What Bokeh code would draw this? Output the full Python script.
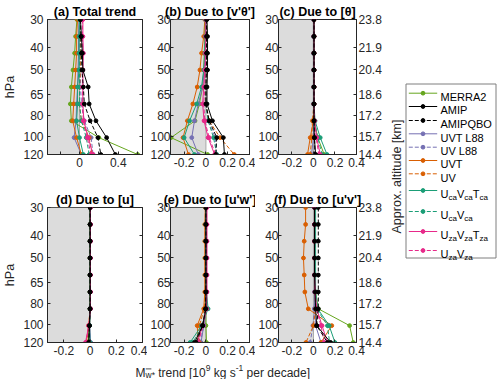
import math
from bokeh.plotting import figure
from bokeh.models import (Range1d, FixedTicker, LogAxis, NumeralTickFormatter, BoxAnnotation,
                          Span, CustomJSTickFormatter)
from bokeh.layouts import row, column
from bokeh.embed import file_html
from bokeh.resources import INLINE
from bokeh.core.properties import value

# ---------------- data ----------------
levels = [30, 35.7, 42.4, 50.4, 60.0, 71.4, 84.9, 100.9, 120]      # hPa, top -> bottom
p_ticks = [30, 40, 50, 65, 80, 100, 120]
alt_ticks = ["23.8", "21.9", "20.4", "18.6", "17.2", "15.7", "14.4"]

series = ["MERRA2", "AMIP", "AMIPQBO", "UVT L88", "UV L88", "UVT", "UV",
          "UcaVcaTca", "UcaVca", "UzaVzaTza", "UzaVza"]
colors = ["#66a61e", "#000000", "#000000", "#7570b3", "#7570b3", "#d95f02", "#d95f02",
          "#1b9e77", "#1b9e77", "#e7298a", "#e7298a"]
dashes = ["solid", "solid", "dashed", "solid", "dashed", "solid", "dashed",
          "solid", "dashed", "solid", "dashed"]
# drawing order in the panels (reference series end up on top)
draw_order = [0, 3, 4, 5, 6, 7, 8, 9, 10, 2, 1]
legend_labels = [
    [("MERRA2", 0)], [("AMIP", 0)], [("AMIPQBO", 0)], [("UVT L88", 0)], [("UV L88", 0)],
    [("UVT", 0)], [("UV", 0)],
    [("U", 0), ("ca", 1), ("V", 0), ("ca", 1), ("T", 0), ("ca", 1)],
    [("U", 0), ("ca", 1), ("V", 0), ("ca", 1)],
    [("U", 0), ("za", 1), ("V", 0), ("za", 1), ("T", 0), ("za", 1)],
    [("U", 0), ("za", 1), ("V", 0), ("za", 1)],
]

total_trend = {
    "MERRA2":    [-0.026, -0.04, -0.05, -0.067, -0.084, -0.094, -0.084, 0.20, 0.60],
    "AMIP":      [0.01, 0.02, 0.03, 0.035, 0.09, 0.10, 0.17, 0.28, 0.37],
    "AMIPQBO":   [0.01, 0.015, 0.02, 0.025, 0.04, 0.05, 0.11, 0.19, 0.22],
    "UVT L88":   [-0.005, -0.01, -0.01, -0.015, -0.02, -0.03, -0.035, -0.056, 0.02],
    "UV L88":    [0.0, 0.005, 0.01, 0.01, 0.01, 0.02, 0.05, 0.12, 0.14],
    "UVT":       [-0.02, -0.03, -0.03, -0.04, -0.05, -0.06, -0.07, -0.03, 0.02],
    "UV":        [0.0, 0.01, 0.01, 0.01, 0.0, 0.0, 0.02, 0.10, 0.13],
    "UcaVcaTca": [0.0, -0.005, -0.005, -0.005, -0.02, -0.02, -0.03, 0.0, 0.04],
    "UcaVca":    [0.005, 0.005, 0.005, 0.0, 0.0, 0.0, 0.02, 0.07, 0.10],
    "UzaVzaTza": [0.035, 0.035, 0.04, 0.035, 0.035, 0.035, 0.045, 0.09, 0.14],
    "UzaVza":    [0.03, 0.03, 0.035, 0.03, 0.03, 0.03, 0.04, 0.08, 0.12],
}
due_vtheta = {
    "MERRA2":    [-0.005, -0.01, -0.015, -0.02, -0.03, -0.06, -0.10, -0.32, 0.015],
    "AMIP":      [0.01, 0.015, 0.015, 0.015, 0.01, 0.01, 0.06, 0.16, 0.17],
    "AMIPQBO":   [0.005, 0.005, 0.005, 0.005, 0.0, 0.0, 0.03, 0.10, 0.09],
    "UVT L88":   [0.0, -0.005, -0.01, -0.015, -0.03, -0.07, -0.105, -0.13, -0.07],
    "UV L88":    [0.0, 0.0, 0.0, 0.0, 0.0, 0.0, 0.02, 0.085, 0.10],
    "UVT":       [-0.01, -0.02, -0.04, -0.055, -0.08, -0.12, -0.17, -0.21, -0.16],
    "UV":        [0.0, 0.0, 0.0, 0.0, 0.0, 0.0, 0.03, 0.13, 0.26],
    "UcaVcaTca": [-0.005, -0.005, -0.01, -0.02, -0.04, -0.085, -0.15, -0.20, -0.105],
    "UcaVca":    [0.0, 0.0, 0.0, 0.0, 0.0, 0.0, 0.02, 0.07, 0.10],
    "UzaVzaTza": [0.0, 0.0, -0.005, -0.01, -0.02, -0.03, -0.017, 0.02, 0.08],
    "UzaVza":    [0.0, 0.0, 0.0, -0.005, -0.01, -0.02, -0.01, 0.03, 0.09],
}
due_theta = {
    "MERRA2":    [0.0, 0.0, 0.0, 0.0, 0.0, 0.0, 0.005, 0.04, 0.10],
    "AMIP":      [0.005, 0.005, 0.005, 0.005, 0.005, 0.005, 0.005, 0.008, 0.02],
    "AMIPQBO":   [0.005, 0.005, 0.005, 0.005, 0.005, 0.005, 0.005, 0.01, 0.015],
    "UVT L88":   [0.0, 0.0, 0.0, 0.0, 0.0, 0.0, 0.0, 0.0, -0.018],
    "UV L88":    [0.0, 0.0, 0.0, 0.0, 0.0, 0.0, 0.0, 0.005, 0.01],
    "UVT":       [0.005, 0.005, 0.005, 0.005, 0.005, 0.005, 0.0, -0.03, -0.055],
    "UV":        [0.005, 0.005, 0.005, 0.005, 0.005, 0.005, -0.01, -0.015, -0.03],
    "UcaVcaTca": [0.005, 0.005, 0.005, 0.005, 0.005, 0.005, 0.015, 0.063, 0.126],
    "UcaVca":    [0.005, 0.005, 0.005, 0.005, 0.005, 0.005, 0.01, 0.04, 0.08],
    "UzaVzaTza": [0.005, 0.005, 0.005, 0.005, 0.005, 0.005, 0.01, 0.03, 0.063],
    "UzaVza":    [0.005, 0.005, 0.005, 0.005, 0.005, 0.005, 0.01, 0.025, 0.05],
}
due_u = {
    "MERRA2":    [0.0, 0.0, 0.0, 0.0, 0.0, 0.0, 0.0, -0.005, -0.015],
    "AMIP":      [0.0, 0.0, 0.0, 0.0, 0.0, 0.0, 0.0, -0.005, -0.01],
    "AMIPQBO":   [0.0, 0.0, 0.0, 0.0, 0.0, 0.0, 0.0, -0.005, -0.01],
    "UVT L88":   [0.0, 0.0, 0.0, 0.0, 0.0, 0.0, 0.0, -0.005, 0.005],
    "UV L88":    [0.0, 0.0, 0.0, 0.0, 0.0, 0.0, 0.0, -0.005, 0.0],
    "UVT":       [0.0, 0.0, 0.0, 0.0, 0.0, 0.0, 0.0, -0.01, -0.03],
    "UV":        [0.0, 0.0, 0.0, 0.0, 0.0, 0.0, 0.0, -0.01, -0.025],
    "UcaVcaTca": [0.0, 0.0, 0.0, 0.0, 0.0, 0.0, 0.0, -0.005, 0.0],
    "UcaVca":    [0.0, 0.0, 0.0, 0.0, 0.0, 0.0, 0.0, -0.005, -0.005],
    "UzaVzaTza": [0.003, 0.003, 0.003, 0.003, 0.003, 0.003, 0.003, -0.01, -0.035],
    "UzaVza":    [0.003, 0.003, 0.003, 0.003, 0.003, 0.003, 0.003, -0.01, -0.03],
}
due_uw = {
    "MERRA2":    [0.0, 0.0, 0.0, 0.0, 0.0, 0.0, 0.0, 0.0, 0.005],
    "AMIP":      [0.0, 0.0, 0.0, 0.0, 0.0, 0.0, 0.0, -0.03, -0.105],
    "AMIPQBO":   [0.0, 0.0, 0.0, 0.0, 0.0, 0.0, -0.005, -0.03, -0.09],
    "UVT L88":   [0.005, 0.005, 0.005, 0.005, 0.005, 0.005, 0.005, -0.02, -0.045],
    "UV L88":    [0.005, 0.005, 0.005, 0.005, 0.005, 0.005, 0.0, -0.02, -0.05],
    "UVT":       [-0.005, -0.01, -0.01, -0.01, -0.01, -0.01, -0.02, -0.08, -0.07],
    "UV":        [-0.005, -0.005, -0.005, -0.005, -0.005, -0.005, -0.015, -0.06, -0.06],
    "UcaVcaTca": [0.0, 0.0, 0.0, 0.0, 0.0, 0.005, 0.02, -0.04, -0.145],
    "UcaVca":    [0.0, 0.0, 0.0, 0.0, 0.0, 0.005, 0.01, -0.03, -0.12],
    "UzaVzaTza": [0.01, 0.01, 0.01, 0.01, 0.01, 0.01, 0.005, -0.03, -0.08],
    "UzaVza":    [0.005, 0.005, 0.005, 0.005, 0.005, 0.005, 0.005, -0.025, -0.07],
}
due_uv = {
    "MERRA2":    [0.01, 0.01, 0.01, 0.01, 0.015, 0.02, 0.045, 0.336, 0.37],
    "AMIP":      [0.01, 0.01, 0.01, 0.01, 0.01, 0.015, 0.02, 0.03, 0.16],
    "AMIPQBO":   [0.045, 0.045, 0.045, 0.045, 0.045, 0.045, 0.045, 0.03, 0.13],
    "UVT L88":   [0.01, 0.01, 0.01, 0.01, 0.01, 0.01, 0.01, 0.02, 0.07],
    "UV L88":    [0.01, 0.01, 0.01, 0.01, 0.01, 0.01, 0.008, -0.005, -0.03],
    "UVT":       [-0.073, -0.073, -0.086, -0.093, -0.086, -0.08, -0.048, 0.17, 0.07],
    "UV":        [0.01, 0.01, 0.01, 0.01, 0.01, 0.015, 0.02, 0.0, -0.07],
    "UcaVcaTca": [0.02, 0.02, 0.02, 0.02, 0.02, 0.02, 0.04, 0.146, 0.20],
    "UcaVca":    [0.015, 0.015, 0.015, 0.015, 0.015, 0.015, 0.03, 0.13, 0.15],
    "UzaVzaTza": [0.01, 0.01, 0.01, 0.01, 0.01, 0.015, 0.03, 0.08, 0.13],
    "UzaVza":    [0.01, 0.01, 0.01, 0.01, 0.01, 0.015, 0.025, 0.07, 0.10],
}

# ---------------- styling helpers ----------------
FONT = "Liberation Sans"
AX = "#262626"
GREY = "#dcdcdc"
DASH = {"solid": "solid", "dashed": "4 2"}
MSIZE = 3.8

W = {' ': 278, 'M': 833, 'w': 722, '*': 389, 't': 278, 'r': 333, 'e': 556, 'n': 556,
     'd': 556, '[': 278, ']': 278, '1': 556, '0': 556, '9': 556, 'k': 500, 'g': 556,
     's': 500, '-': 333, 'p': 556, 'c': 500, 'a': 556, 'U': 722, 'V': 667, 'T': 611,
     'z': 500}


def tw(s, size):
    return sum(W.get(ch, 556) for ch in s) / 1000.0 * size


EMPTY = CustomJSTickFormatter(code="return ''")


def style_axis(ax, labels=True, standoff=3):
    ax.axis_line_color = AX
    ax.major_tick_line_color = AX
    ax.minor_tick_line_color = AX
    ax.major_tick_in = 3
    ax.major_tick_out = 0
    ax.minor_tick_in = 3
    ax.minor_tick_out = 0
    ax.major_label_text_font = FONT
    ax.major_label_text_color = AX
    ax.major_label_text_font_size = "12px"
    if labels:
        ax.major_label_standoff = standoff
    else:
        ax.formatter = EMPTY
        ax.major_label_standoff = 0


def panel(title, data, xr, xt, xm, left_label, right_labels, width, height, bl, br, bt, bb):
    p = figure(width=width, height=height, x_range=Range1d(*xr), y_range=Range1d(120, 30),
               y_axis_type="log", output_backend="svg", toolbar_location=None,
               min_border_left=bl, min_border_right=br, min_border_top=bt,
               min_border_bottom=bb, title=title)
    p.title.text_font = FONT
    p.title.text_font_size = "12.5px"
    p.title.text_font_style = "bold"
    p.title.align = "center"
    p.title.standoff = 2
    p.title.text_color = "black"
    p.xgrid.visible = False
    p.ygrid.visible = False
    p.outline_line_color = AX
    p.outline_line_alpha = 1
    p.add_layout(BoxAnnotation(right=0, fill_color=GREY, fill_alpha=1, line_alpha=0,
                               level="underlay"))
    p.add_layout(Span(location=0, dimension="height", line_color="#a8a8a8", line_width=1,
                      level="underlay"))
    xa = p.xaxis[0]
    xa.ticker = FixedTicker(ticks=xt, minor_ticks=xm)
    xa.formatter = NumeralTickFormatter(format="0.[0]")
    style_axis(xa, True, 3)
    ya = p.yaxis[0]
    ya.ticker = FixedTicker(ticks=p_ticks)
    ya.major_label_overrides = {t: str(t) for t in p_ticks}
    style_axis(ya, left_label, 4)
    if left_label:
        ya.axis_label = "hPa"
        ya.axis_label_text_font = FONT
        ya.axis_label_text_font_size = "12.5px"
        ya.axis_label_text_font_style = "normal"
        ya.axis_label_text_color = AX
        ya.axis_label_standoff = 3
    ra = LogAxis(ticker=FixedTicker(ticks=p_ticks))
    style_axis(ra, right_labels, 2)
    if right_labels:
        ra.major_label_overrides = dict(zip(p_ticks, alt_ticks))
    p.add_layout(ra, "right")
    for i in draw_order:
        name, c, d = series[i], colors[i], dashes[i]
        p.line(x=data[name], y=levels, line_color=c, line_width=1, line_dash=DASH[d])
        p.scatter(x=data[name], y=levels, size=MSIZE, marker="circle", fill_color=c,
                  line_color=c)
    return p


XR_A = (-0.33, 0.65)
XR = (-0.325, 0.4001)
XT = [-0.2, 0, 0.2, 0.4]

H1, H2 = 188, 172
pa = panel("(a) Total trend", total_trend, XR_A, [0, 0.4], [-0.2, 0.2, 0.6], True, False,
           147, H1, 46, 5, 19, 34)
pb = panel("(b) Due to [v'\u03b8']", due_vtheta, XR, XT, [], False, False,
           108, H1, 6, 6, 19, 34)
pc = panel("(c) Due to [\u03b8]", due_theta, XR, XT, [], False, True,
           129, H1, 6, 27, 19, 34)
pd = panel("(d) Due to [u]", due_u, XR, XT, [], True, False, 147, H2, 46, 5, 19, 18)
pe = panel("(e) Due to [u'w']", due_uw, XR, XT, [], False, False, 108, H2, 6, 6, 19, 18)
pf = panel("(f) Due to [u'v']", due_uv, XR, XT, [], False, True, 129, H2, 6, 27, 19, 18)


def blank(w, h):
    b = figure(width=w, height=h, x_range=Range1d(0, w), y_range=Range1d(0, h),
               x_axis_location=None, y_axis_location=None, output_backend="svg",
               toolbar_location=None, min_border=0)
    b.outline_line_color = None
    b.xgrid.visible = False
    b.ygrid.visible = False
    return b


def draw_pieces(fig, pieces, x0, base, main, small, up, down, color):
    """Write a run of text pieces (kind 0 normal, 1 raised, 2 lowered) left to right."""
    spans = []
    for s, kind in pieces:
        size = main if kind == 0 else small
        if kind == 0:
            yy = base
        elif kind == 1:
            yy = base + up
        else:
            yy = base - down
        lead = len(s) - len(s.lstrip(" "))
        x0 += tw(" " * lead, size)
        s2 = s.lstrip(" ")
        fig.text(x=[x0], y=[yy], text=[s2], text_font=value(FONT),
                 text_font_size=f"{size}px", text_align="left", text_baseline="alphabetic",
                 text_color=color)
        spans.append((x0, yy, size, s2))
        x0 += tw(s2, size)
    return spans


# ---------------- x-axis label strip ----------------
SW, SH = 147 + 108 + 129, 19
strip = blank(SW, SH)
xl_pieces = [("M", 0), ("w*", 2), (" trend [10", 0), ("9", 1), (" kg s", 0),
             ("-1", 1), (" per decade]", 0)]
spans = draw_pieces(strip, xl_pieces, 135.0, 7.0, 12.0, 8.5, 4.3, 2.0, AX)
# overbar of the subscript w (M with a bar-w-star subscript)
sx, sy, ss, _ = spans[1]
strip.segment(x0=[sx + 0.3], y0=[sy + 5.6], x1=[sx + tw("w", ss) - 0.3], y1=[sy + 5.6],
              line_color=AX, line_width=0.8)

# ---------------- right column: altitude label + legend ----------------
RW, RH = 114, H1 + H2 + SH
right = blank(RW, RH)


def Y(v):
    return RH - v


right.text(x=[12.7], y=[Y(176)], text=["Approx. altitude [km]"], angle=math.pi / 2,
           text_align="center", text_baseline="middle", text_font=value(FONT),
           text_font_size="12.5px", text_color=AX)

right.quad(left=21.5, right=111.5, top=Y(83.5), bottom=Y(257.5), fill_color="white",
           line_color="#7f7f7f", line_width=1)
entry_y = [92.7, 106.0, 120.0, 133.3, 146.7, 160.0, 173.3, 190.0, 211.0, 231.0, 250.0]
for ey, c, d, lab in zip(entry_y, colors, dashes, legend_labels):
    yy = Y(ey)
    right.line(x=[24.3, 52.7], y=[yy, yy], line_color=c, line_width=1, line_dash=DASH[d])
    right.scatter(x=[38.5], y=[yy], size=MSIZE, marker="circle", fill_color=c, line_color=c)
    lab2 = [(s, 0 if k == 0 else 2) for s, k in lab]
    draw_pieces(right, lab2, 56.0, yy - 3.9, 11.0, 8.0, 0, 3.0, "black")

left_col = column(row(pa, pb, pc, spacing=0), row(pd, pe, pf, spacing=0), strip, spacing=0)
layout = row(left_col, right, spacing=0)

open("out.html", "w").write(file_html(layout, INLINE))
